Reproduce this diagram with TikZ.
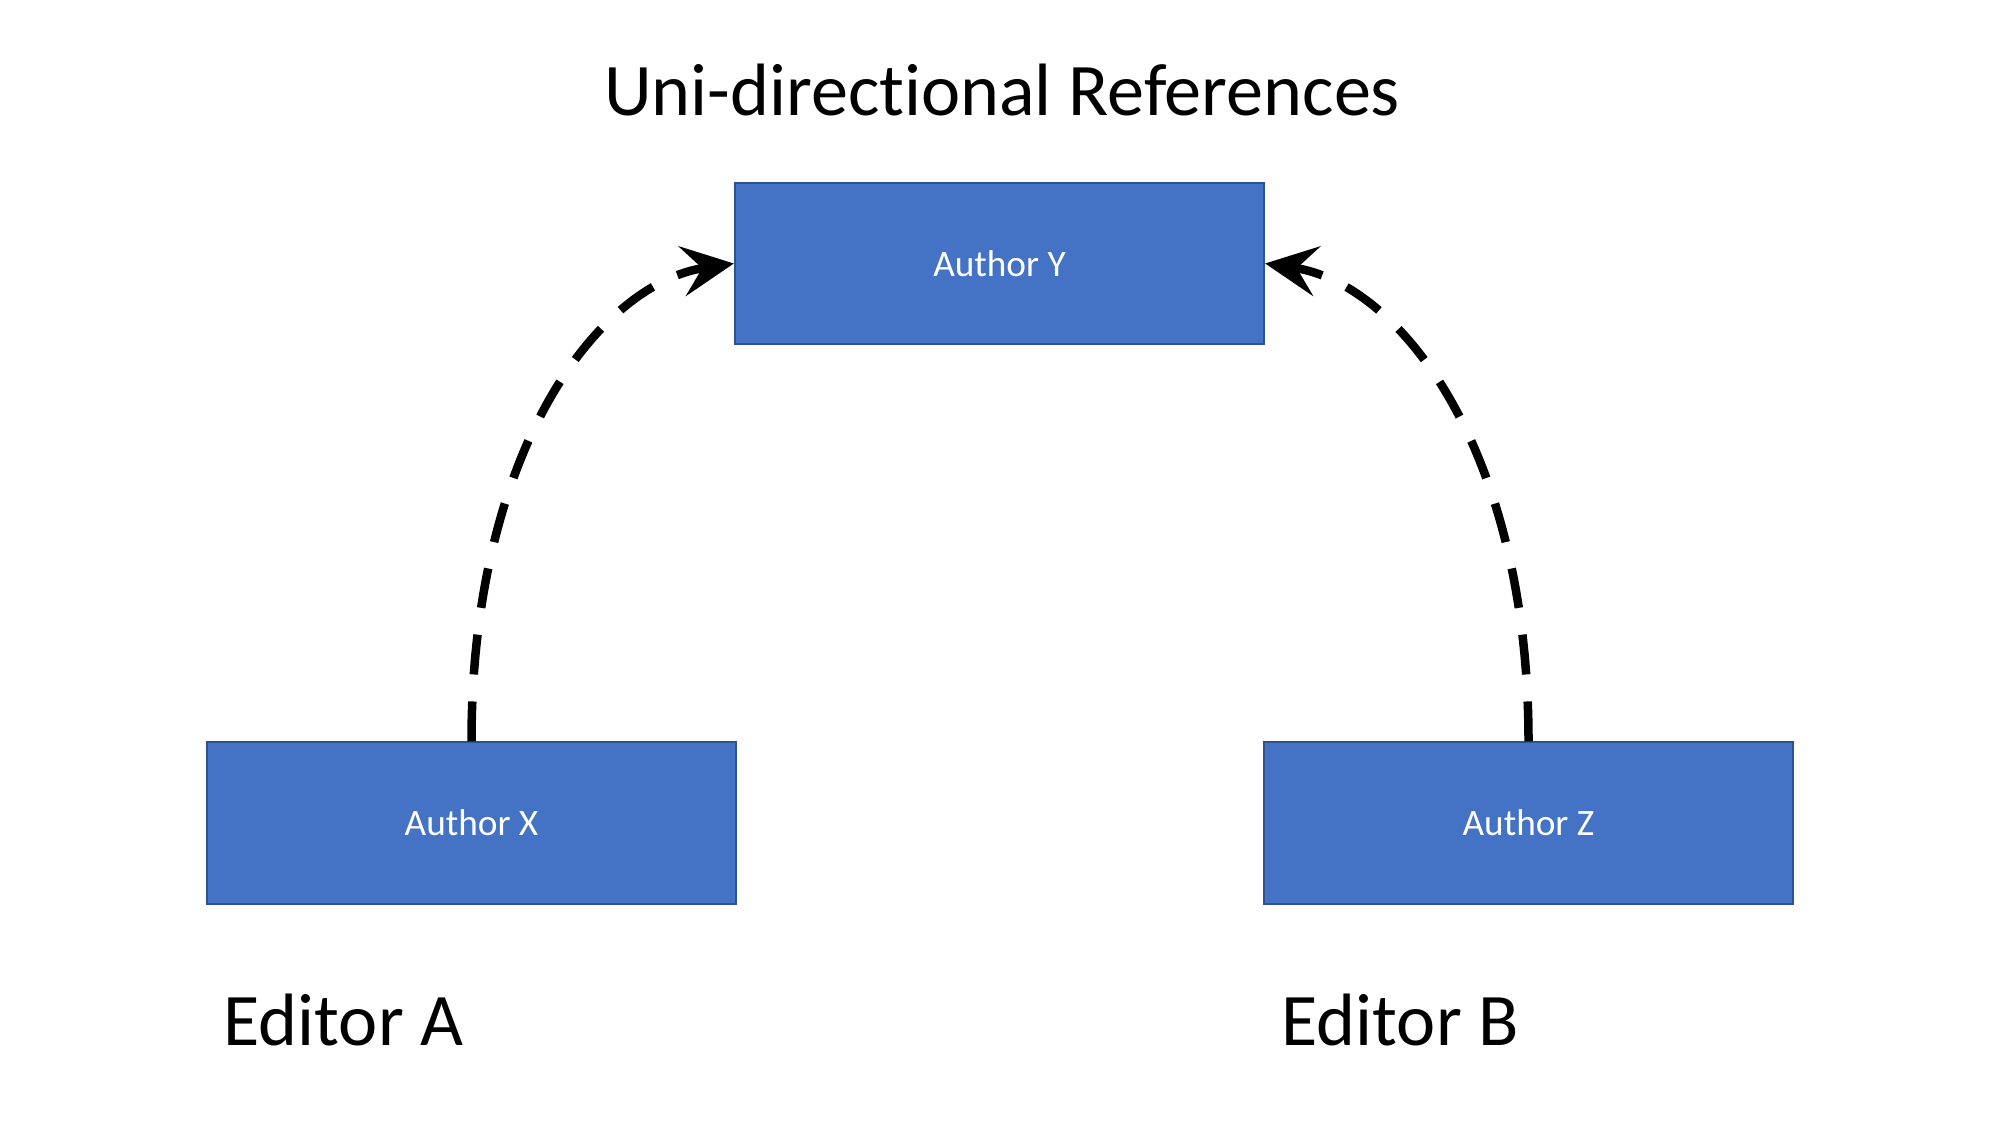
\documentclass[tikz,border=0pt]{standalone}
\usepackage{fontspec}
\setmainfont{Carlito}[RawFeature=-liga]
\usetikzlibrary{arrows.meta}
\definecolor{boxblue}{HTML}{4472C4}
\definecolor{boxedge}{HTML}{2F528F}
\begin{document}
\begin{tikzpicture}[x=0.01cm,y=-0.01cm,
  authorbox/.style={draw=boxedge, fill=boxblue, line width=0.02cm, minimum width=5.29cm, minimum height=1.61cm, inner sep=0pt, text=white, font=\fontsize{10.6pt}{12pt}\selectfont},
  bigtext/.style={font=\fontsize{21.1pt}{25pt}\selectfont, inner sep=0pt},
  conn/.style={line width=0.085cm, dash pattern=on 0.4cm off 0.27cm, -{Stealth[length=0.52cm, width=0.5cm, inset=0.2cm]}}]
\useasboundingbox (0,0) rectangle (2000,1125);
\node[bigtext, anchor=base] (title) at (1002,116) {Uni-directional References};
\node[authorbox] (Y) at (999.5,263.5) {Author Y};
\node[authorbox] (X) at (471.5,823) {Author X};
\node[authorbox] (Z) at (1528.5,823) {Author Z};
\node[bigtext, anchor=base west] (edA) at (223,1045) {Editor A};
\node[bigtext, anchor=base west] (edB) at (1281,1045) {Editor B};
\draw[conn] (X.north) .. controls +(0,-292) and +(-135,20) .. (Y.west);
\draw[conn] (Z.north) .. controls +(0,-292) and +(135,20) .. (Y.east);
\end{tikzpicture}
\end{document}
